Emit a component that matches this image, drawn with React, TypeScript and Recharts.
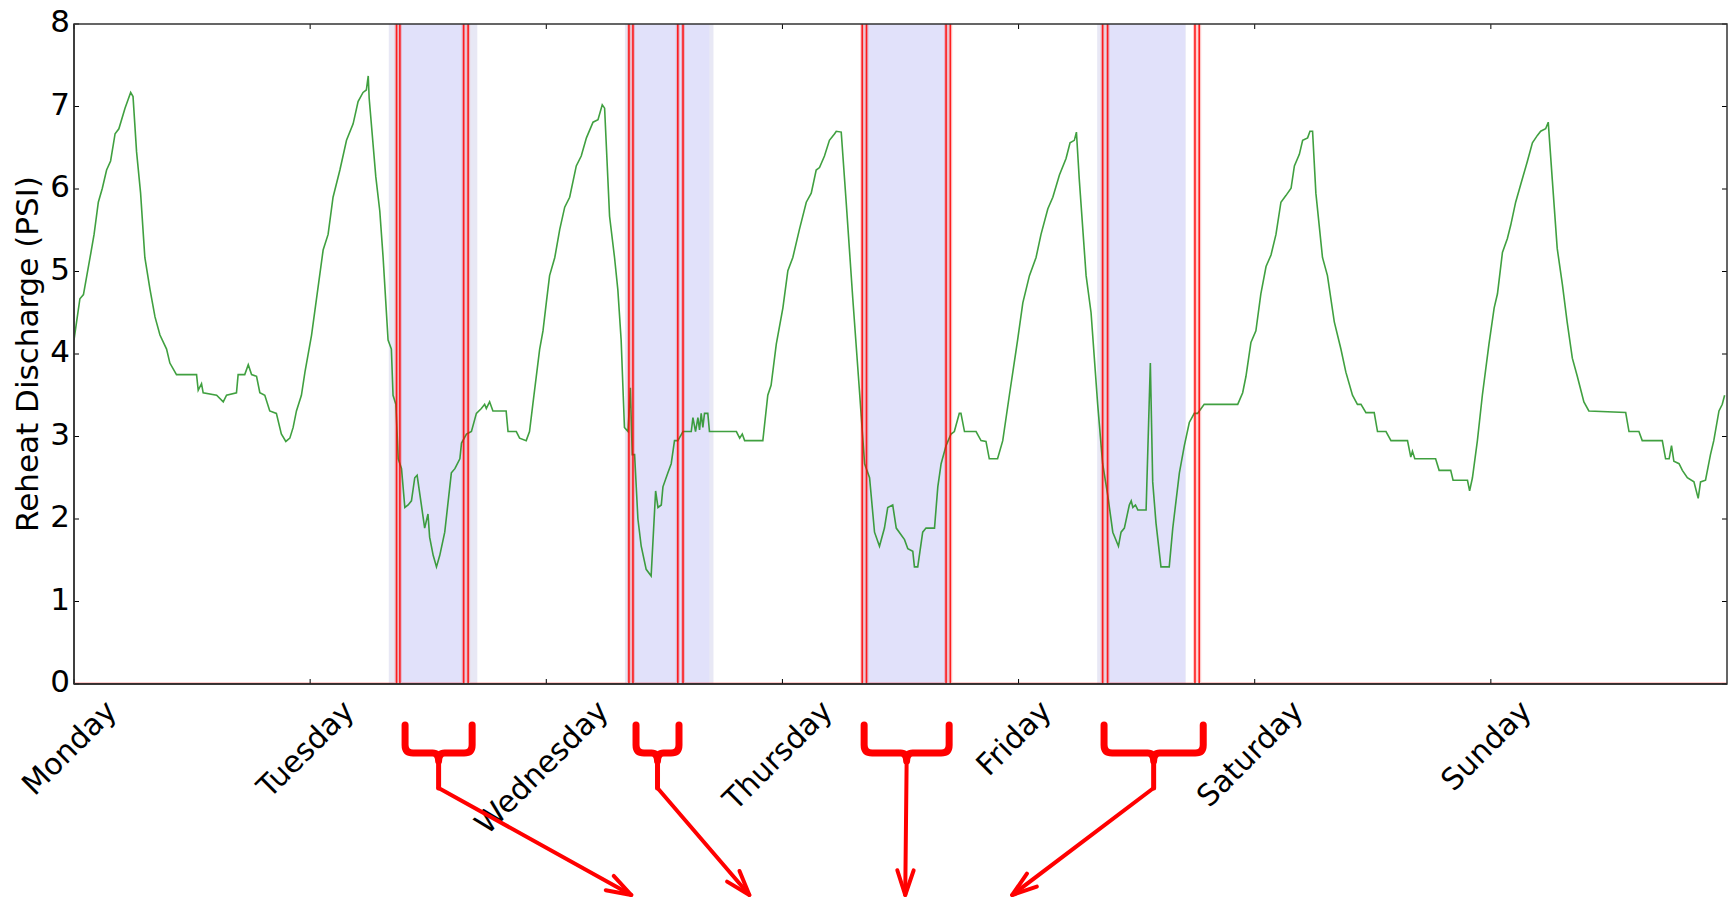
import { Line, LineChart, ReferenceArea, XAxis, YAxis } from 'recharts';

const W = 1735;
const H = 900;
const PLOT_L = 74;
const PLOT_R = 1727;
const PLOT_T = 24;
const PLOT_B = 684;
const FONT = '"DejaVu Sans", "Bitstream Vera Sans", sans-serif';

const DAYS = ['Monday', 'Tuesday', 'Wednesday', 'Thursday', 'Friday', 'Saturday', 'Sunday'];
const X_TICKS = [0, 1, 2, 3, 4, 5, 6];
const Y_TICKS = [0, 1, 2, 3, 4, 5, 6, 7, 8];

// reheat discharge pressure, [day, psi]
const mondayTrace = [
  [0.0, 4.17], [0.025, 4.67], [0.04, 4.72], [0.068, 5.17], [0.085, 5.45], [0.103, 5.84], [0.12, 6.01],
  [0.138, 6.23], [0.155, 6.34], [0.174, 6.67], [0.19, 6.73], [0.216, 6.98], [0.23, 7.09], [0.24, 7.17],
  [0.25, 7.12], [0.265, 6.45], [0.282, 5.95], [0.3, 5.17], [0.322, 4.78], [0.343, 4.45], [0.364, 4.23],
  [0.392, 4.06], [0.406, 3.89], [0.434, 3.75], [0.519, 3.75], [0.526, 3.56], [0.54, 3.64], [0.547, 3.53],
  [0.604, 3.5], [0.632, 3.42], [0.646, 3.5], [0.688, 3.53], [0.695, 3.75], [0.723, 3.75], [0.738, 3.87],
  [0.752, 3.75], [0.773, 3.73], [0.787, 3.53], [0.808, 3.5], [0.829, 3.31], [0.857, 3.28], [0.878, 3.03],
  [0.897, 2.94], [0.914, 2.98], [0.928, 3.11], [0.942, 3.31], [0.963, 3.5], [0.978, 3.78],
];
const tuesdayTrace = [
  [1.006, 4.23], [1.027, 4.67], [1.055, 5.26], [1.076, 5.45], [1.097, 5.9], [1.126, 6.23], [1.154, 6.59],
  [1.182, 6.79], [1.203, 7.06], [1.224, 7.17], [1.238, 7.2], [1.246, 7.37], [1.25, 7.1], [1.278, 6.15],
  [1.295, 5.73], [1.309, 5.17], [1.33, 4.17], [1.344, 4.06], [1.351, 3.5], [1.363, 3.39], [1.373, 2.73],
  [1.387, 2.61], [1.401, 2.14], [1.415, 2.17], [1.429, 2.22], [1.443, 2.5], [1.453, 2.53], [1.471, 2.17],
  [1.485, 1.89], [1.499, 2.06], [1.506, 1.78], [1.521, 1.56], [1.535, 1.42], [1.549, 1.56], [1.57, 1.84],
  [1.598, 2.56], [1.613, 2.61], [1.634, 2.73], [1.641, 2.92], [1.662, 3.03], [1.683, 3.06], [1.704, 3.28],
  [1.725, 3.34], [1.739, 3.39], [1.746, 3.34], [1.76, 3.42], [1.774, 3.31], [1.83, 3.31], [1.838, 3.06],
  [1.873, 3.06], [1.887, 2.98], [1.915, 2.95], [1.929, 3.06], [1.943, 3.39], [1.972, 4.06], [1.986, 4.28],
];
const wednesdayTrace = [
  [2.0, 4.62], [2.014, 4.95], [2.036, 5.17], [2.057, 5.51], [2.078, 5.78], [2.099, 5.9], [2.127, 6.28],
  [2.148, 6.4], [2.17, 6.62], [2.198, 6.81], [2.219, 6.84], [2.237, 7.02], [2.247, 6.98], [2.268, 5.67],
  [2.289, 5.17], [2.303, 4.78], [2.317, 4.17], [2.331, 3.11], [2.346, 3.06], [2.356, 3.59], [2.364, 2.78],
  [2.374, 2.78], [2.388, 2.0], [2.402, 1.67], [2.423, 1.39], [2.444, 1.31], [2.463, 2.34], [2.473, 2.14],
  [2.487, 2.17], [2.494, 2.39], [2.515, 2.56], [2.529, 2.67], [2.543, 2.95], [2.557, 2.95], [2.579, 3.06],
  [2.614, 3.06], [2.621, 3.23], [2.632, 3.06], [2.642, 3.23], [2.649, 3.08], [2.656, 3.28], [2.663, 3.11],
  [2.67, 3.28], [2.684, 3.28], [2.691, 3.06], [2.713, 3.06], [2.805, 3.06], [2.819, 2.98], [2.83, 3.03],
  [2.84, 2.95], [2.917, 2.95], [2.938, 3.5], [2.952, 3.62], [2.974, 4.12],
];
const thursdayTrace = [
  [3.002, 4.56], [3.023, 5.01], [3.044, 5.17], [3.072, 5.51], [3.101, 5.84], [3.122, 5.95], [3.143, 6.23],
  [3.157, 6.26], [3.178, 6.4], [3.199, 6.59], [3.221, 6.67], [3.228, 6.7], [3.249, 6.69], [3.27, 5.84],
  [3.298, 4.67], [3.326, 3.56], [3.348, 2.67], [3.369, 2.5], [3.39, 1.84], [3.411, 1.67], [3.432, 1.89],
  [3.446, 2.14], [3.467, 2.17], [3.482, 1.89], [3.517, 1.75], [3.531, 1.64], [3.552, 1.61], [3.559, 1.42],
  [3.573, 1.42], [3.594, 1.84], [3.608, 1.89], [3.644, 1.89], [3.658, 2.39], [3.672, 2.67], [3.693, 2.89],
  [3.714, 3.03], [3.728, 3.06], [3.749, 3.28], [3.756, 3.28], [3.771, 3.06], [3.82, 3.06], [3.841, 2.95],
  [3.862, 2.94], [3.876, 2.73], [3.911, 2.73], [3.933, 2.95], [3.961, 3.5], [3.996, 4.17],
];
const fridayTrace = [
  [4.018, 4.62], [4.046, 4.95], [4.074, 5.17], [4.095, 5.45], [4.124, 5.76], [4.145, 5.9], [4.173, 6.17],
  [4.201, 6.37], [4.218, 6.56], [4.236, 6.59], [4.245, 6.69], [4.257, 6.12], [4.286, 4.95], [4.307, 4.5],
  [4.335, 3.39], [4.356, 2.67], [4.378, 2.28], [4.399, 1.84], [4.423, 1.67], [4.434, 1.84], [4.448, 1.89],
  [4.469, 2.17], [4.477, 2.22], [4.484, 2.14], [4.495, 2.17], [4.505, 2.11], [4.54, 2.11], [4.558, 3.89],
  [4.568, 2.45], [4.582, 1.95], [4.603, 1.42], [4.638, 1.42], [4.653, 1.89], [4.681, 2.56], [4.702, 2.89],
  [4.723, 3.17], [4.744, 3.28], [4.758, 3.28], [4.786, 3.39], [4.928, 3.39], [4.949, 3.53], [4.963, 3.73],
  [4.984, 4.14],
];
const saturdayTrace = [
  [5.005, 4.28], [5.026, 4.73], [5.048, 5.06], [5.069, 5.2], [5.09, 5.45], [5.111, 5.84], [5.132, 5.92],
  [5.154, 6.01], [5.168, 6.28], [5.189, 6.42], [5.203, 6.59], [5.224, 6.62], [5.234, 6.7], [5.245, 6.7],
  [5.259, 5.95], [5.287, 5.17], [5.308, 4.95], [5.337, 4.39], [5.365, 4.06], [5.386, 3.78], [5.414, 3.5],
  [5.435, 3.39], [5.45, 3.39], [5.471, 3.29], [5.506, 3.29], [5.52, 3.06], [5.556, 3.06], [5.577, 2.95],
  [5.647, 2.95], [5.661, 2.75], [5.668, 2.82], [5.678, 2.73], [5.766, 2.73], [5.781, 2.59], [5.83, 2.59],
  [5.84, 2.47], [5.901, 2.47], [5.91, 2.34], [5.922, 2.5], [5.943, 2.95], [5.964, 3.5], [5.992, 4.12],
];
const sundayTrace = [
  [6.014, 4.56], [6.028, 4.73], [6.049, 5.23], [6.07, 5.4], [6.084, 5.56], [6.105, 5.84], [6.127, 6.06],
  [6.155, 6.34], [6.176, 6.56], [6.197, 6.65], [6.211, 6.7], [6.232, 6.73], [6.243, 6.81], [6.26, 6.12],
  [6.281, 5.28], [6.303, 4.84], [6.323, 4.39], [6.345, 3.95], [6.366, 3.73], [6.394, 3.42], [6.415, 3.31],
  [6.571, 3.29], [6.585, 3.06], [6.627, 3.06], [6.641, 2.95], [6.726, 2.95], [6.74, 2.73], [6.755, 2.73],
  [6.765, 2.89], [6.775, 2.7], [6.797, 2.67], [6.811, 2.59], [6.832, 2.5], [6.86, 2.45], [6.878, 2.25],
  [6.888, 2.45], [6.909, 2.47], [6.93, 2.78], [6.944, 2.95], [6.966, 3.31], [6.98, 3.39], [6.99, 3.5],
];

// red on/off signal: short pulses (off the top of the chart)
const pulseStart = [1.366, 1.65, 2.35, 2.557, 3.338, 3.693, 4.356, 4.747];
const pulseEnd = [1.38, 1.669, 2.367, 2.579, 3.356, 3.711, 4.377, 4.765];
const PULSE_LEVEL = 40;

// shaded periods
const outerSpans = [[1.333, 1.708], [2.333, 2.708], [3.333, 3.708], [4.333, 4.708]];
const innerSpans = [[1.38, 1.655], [2.368, 2.69], [3.356, 3.69], [4.377, 4.705]];

// hand-drawn annotation brackets below the axis: [left arm, right arm, arrow target] in days
const brackets = [
  [1.402, 1.686, 2.36],
  [2.38, 2.562, 2.86],
  [3.346, 3.706, 3.52],
  [4.362, 4.782, 3.973],
];

const greenData = [
  ...mondayTrace, ...tuesdayTrace, ...wednesdayTrace, ...thursdayTrace,
  ...fridayTrace, ...saturdayTrace, ...sundayTrace,
].map(([t, v]) => ({ t, v }));

const redData = (() => {
  const rows = [{ t: 0, v: 0 }];
  pulseStart.forEach((s, i) => {
    rows.push({ t: s, v: 0 }, { t: s, v: PULSE_LEVEL }, { t: pulseEnd[i], v: PULSE_LEVEL }, { t: pulseEnd[i], v: 0 });
  });
  rows.push({ t: 7, v: 0 });
  return rows;
})();

const xPx = (t: number) => PLOT_L + (t / 7) * (PLOT_R - PLOT_L);

let measureCtx: CanvasRenderingContext2D | null = null;
function textWidth(s: string, size: number) {
  if (!measureCtx) measureCtx = document.createElement('canvas').getContext('2d');
  if (!measureCtx) return s.length * size * 0.62;
  measureCtx.font = `${size}px "DejaVu Sans"`;
  return measureCtx.measureText(s).width;
}

const X_FONT = 30;
const Y_FONT = 31;

function XTick({ x, y, payload }: any) {
  const label = DAYS[payload.value];
  const w = textWidth(label, X_FONT);
  const bh = (w + X_FONT) / Math.SQRT2;
  const cx = x - 5;
  const cy = y + 11 + bh / 2;
  return (
    <g>
      <line x1={x} y1={y} x2={x} y2={y - 5} stroke="#000" strokeWidth={1} />
      <line x1={x} y1={PLOT_T} x2={x} y2={PLOT_T + 5} stroke="#000" strokeWidth={1} />
      <text
        x={cx}
        y={cy}
        transform={`rotate(-45 ${cx} ${cy})`}
        textAnchor="middle"
        dominantBaseline="central"
        fontSize={X_FONT}
        fontFamily={FONT}
        fill="#000"
      >
        {label}
      </text>
    </g>
  );
}

function YTick({ x, y, payload }: any) {
  return (
    <g>
      <line x1={x} y1={y} x2={x + 5} y2={y} stroke="#000" strokeWidth={1} />
      <line x1={PLOT_R - 5} y1={y} x2={PLOT_R} y2={y} stroke="#000" strokeWidth={1} />
      <text x={x - 4} y={y - 3} textAnchor="end" dominantBaseline="central" fontSize={Y_FONT} fontFamily={FONT} fill="#000">
        {payload.value}
      </text>
    </g>
  );
}

function Annotations() {
  const barY = 753;
  const stemEnd = 788;
  const tipY = 895;
  return (
    <svg width={W} height={H} style={{ position: 'absolute', left: 0, top: 0, pointerEvents: 'none' }}>
      <rect x={PLOT_L} y={PLOT_T} width={PLOT_R - PLOT_L} height={PLOT_B - PLOT_T} fill="none" stroke="#333" strokeWidth={1.5} />
      <text
        x={27}
        y={(PLOT_T + PLOT_B) / 2}
        transform={`rotate(-90 27 ${(PLOT_T + PLOT_B) / 2})`}
        textAnchor="middle"
        dominantBaseline="central"
        fontSize={Y_FONT}
        fontFamily={FONT}
        fill="#000"
      >
        Reheat Discharge (PSI)
      </text>
      {brackets.map(([a, b, target], i) => {
        const xa = xPx(a);
        const xb = xPx(b);
        const xc = (xa + xb) / 2;
        const tx = xPx(target);
        const straight = Math.abs(tx - xc) < 4;
        const fromY = straight ? barY + 8 : stemEnd;
        const ang = Math.atan2(tipY - fromY, tx - xc);
        const head = 26;
        const spread = 0.32;
        const h1x = tx - head * Math.cos(ang - spread);
        const h1y = tipY - head * Math.sin(ang - spread);
        const h2x = tx - head * Math.cos(ang + spread);
        const h2y = tipY - head * Math.sin(ang + spread);
        return (
          <g key={i} stroke="#ff0000" fill="none" strokeLinecap="round" strokeLinejoin="round">
            <path
              d={`M ${xa} 725 V ${barY - 8} Q ${xa} ${barY} ${xa + 8} ${barY} H ${xc - 6} Q ${xc} ${barY} ${xc} ${barY + 8}
                  M ${xb} 725 V ${barY - 8} Q ${xb} ${barY} ${xb - 8} ${barY} H ${xc + 6} Q ${xc} ${barY} ${xc} ${barY + 8}`}
              strokeWidth={7}
            />
            <line x1={xc} y1={barY + 6} x2={xc} y2={straight ? barY + 8 : stemEnd} strokeWidth={5} />
            <line x1={xc} y1={fromY} x2={tx} y2={tipY} strokeWidth={4} />
            <polyline points={`${h1x},${h1y} ${tx},${tipY} ${h2x},${h2y}`} strokeWidth={4} />
          </g>
        );
      })}
    </svg>
  );
}

export default function App() {
  return (
    <div style={{ position: 'absolute', left: 0, top: 0, width: W, height: H, background: '#fff' }}>
      <LineChart width={W} height={H} margin={{ top: PLOT_T, right: W - PLOT_R, left: 0, bottom: 0 }}>
        {outerSpans.map(([a, b], i) => (
          <ReferenceArea key={`o${i}`} x1={a} x2={b} y1={0} y2={8} fill="#e8e8f5" fillOpacity={1} stroke="none" ifOverflow="hidden" />
        ))}
        {innerSpans.map(([a, b], i) => (
          <ReferenceArea key={`i${i}`} x1={a} x2={b} y1={0} y2={8} fill="#e1e1fa" fillOpacity={1} stroke="none" ifOverflow="hidden" />
        ))}
        <XAxis
          type="number"
          dataKey="t"
          domain={[0, 7]}
          ticks={X_TICKS}
          allowDataOverflow
          height={H - PLOT_B}
          tickSize={0}
          tickMargin={0}
          tickLine={false}
          axisLine={{ stroke: '#111', strokeWidth: 1.5 }}
          tick={<XTick />}
          interval={0}
        />
        <YAxis
          type="number"
          domain={[0, 8]}
          ticks={Y_TICKS}
          allowDataOverflow
          width={PLOT_L}
          tickSize={0}
          tickMargin={0}
          tickLine={false}
          axisLine={{ stroke: '#333', strokeWidth: 1.5 }}
          tick={<YTick />}
          interval={0}
        />
        <Line data={greenData} dataKey="v" type="linear" stroke="#1f8f1f" strokeWidth={1.6} strokeOpacity={0.85} dot={false} isAnimationActive={false} />
        <Line data={redData} dataKey="v" type="linear" stroke="#ff0000" strokeWidth={4} strokeOpacity={0.2} dot={false} isAnimationActive={false} />
        <Line data={redData} dataKey="v" type="linear" stroke="#ff0000" strokeWidth={1.6} strokeOpacity={0.85} dot={false} isAnimationActive={false} />
      </LineChart>
      <Annotations />
    </div>
  );
}
